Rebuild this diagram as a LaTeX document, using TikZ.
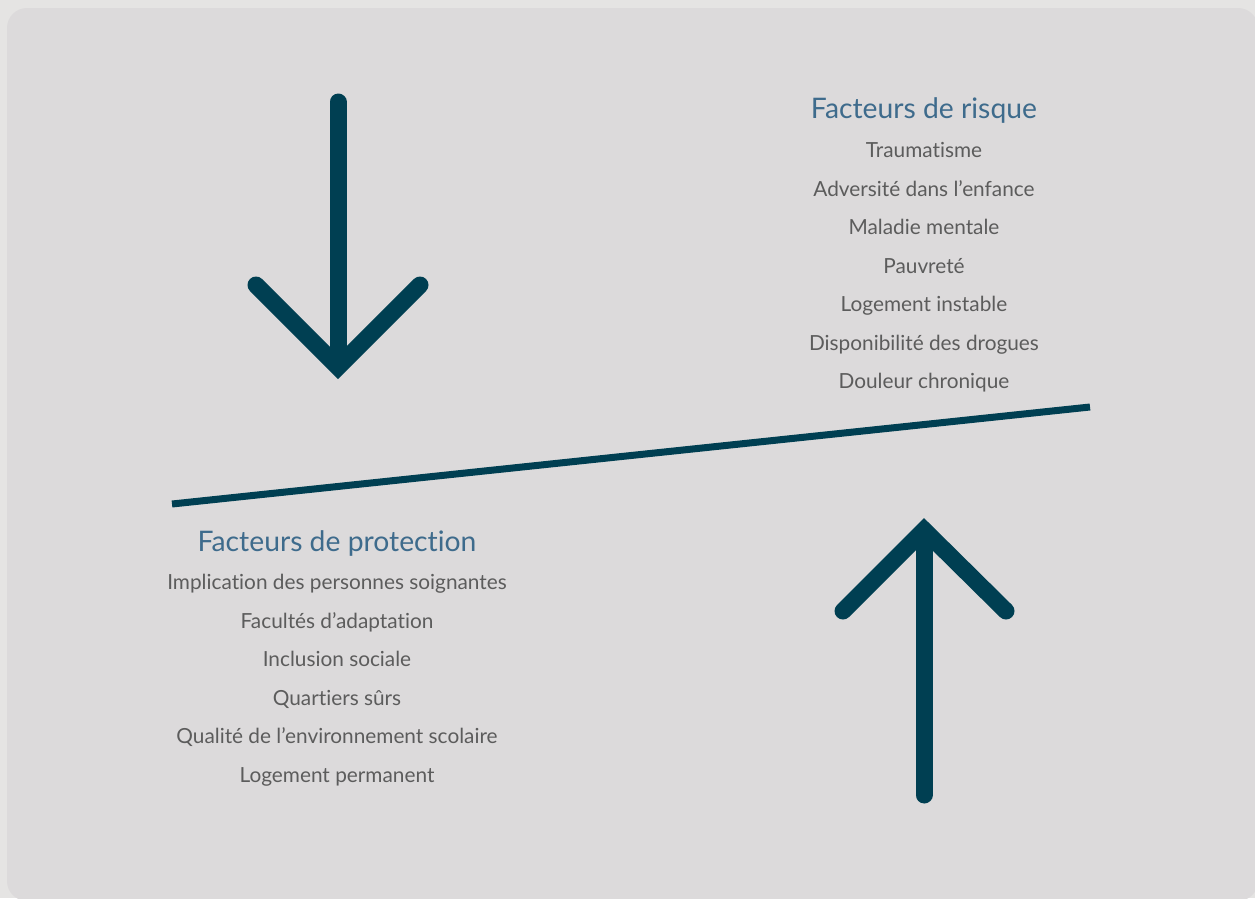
\documentclass[tikz,border=0pt]{standalone}
\usepackage{fontspec}
\setmainfont[Ligatures=NoCommon]{Lato}
\definecolor{outerbg}{HTML}{E5E4E3}
\definecolor{panel}{HTML}{DCDADB}
\definecolor{arrowc}{HTML}{003F52}
\definecolor{titlec}{HTML}{3E6B8C}
\definecolor{itemc}{HTML}{5C5C5C}
\tikzset{
  titletxt/.style={text=titlec, font=\fontsize{28.3}{32}\selectfont, inner sep=0pt, anchor=base},
  itemtxt/.style={text=itemc, font=\fontsize{20.8}{24}\selectfont, inner sep=0pt, anchor=base},
  bigarrow/.style={draw=arrowc, line width=17pt, line cap=round, line join=miter},
  beam/.style={draw=arrowc, line width=7pt}
}
\begin{document}
\begin{tikzpicture}[x=1pt,y=-1pt]
\useasboundingbox (0,0) rectangle (1255,898);
\fill[outerbg] (0,0) rectangle (1255,898);
\begin{scope}
\clip (0,0) rectangle (1255,898);
\fill[panel, rounded corners=20pt] (7,8) rectangle (1258,901);
\end{scope}
% down arrow
\draw[bigarrow] (338,102) -- (338,362);
\draw[bigarrow] (256,285) -- (338,367) -- (420,285);
% up arrow
\draw[bigarrow] (924,795) -- (924,535);
\draw[bigarrow] (843,611) -- (924,530) -- (1006,611);
% beam
\coordinate (bl) at (172,504);
\coordinate (br) at (1090,407);
\draw[beam] (bl) -- (br);
% risk
\node[titletxt] (rt) at (924,118) {Facteurs de risque};
\node[itemtxt] (r1) at (924,157.5) {Traumatisme};
\node[itemtxt] (r2) at (924,196) {Adversité dans l’enfance};
\node[itemtxt] (r3) at (924,234.5) {Maladie mentale};
\node[itemtxt] (r4) at (924,273) {Pauvreté};
\node[itemtxt] (r5) at (924,311.5) {Logement instable};
\node[itemtxt] (r6) at (924,350) {Disponibilité des drogues};
\node[itemtxt] (r7) at (924,388.5) {Douleur chronique};
% protection
\node[titletxt] (pt) at (337,551) {Facteurs de protection};
\node[itemtxt] (p1) at (337,589.5) {Implication des personnes soignantes};
\node[itemtxt] (p2) at (337,628) {Facultés d’adaptation};
\node[itemtxt] (p3) at (337,666.5) {Inclusion sociale};
\node[itemtxt] (p4) at (337,705) {Quartiers sûrs};
\node[itemtxt] (p5) at (337,743.5) {Qualité de l’environnement scolaire};
\node[itemtxt] (p6) at (337,782) {Logement permanent};
\end{tikzpicture}
\end{document}
